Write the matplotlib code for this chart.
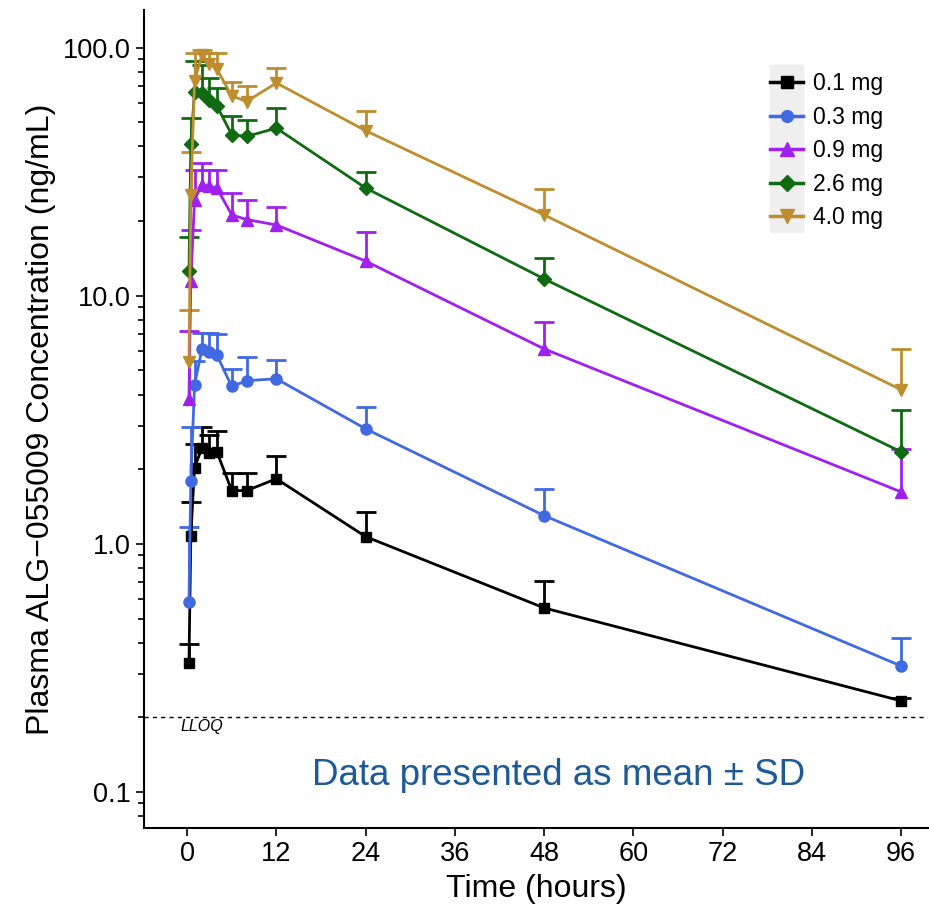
import numpy as np
import matplotlib
matplotlib.use("Agg")
import matplotlib.pyplot as plt
from matplotlib.patches import Rectangle
from matplotlib.lines import Line2D
from matplotlib.ticker import FixedLocator, LogLocator, NullFormatter

plt.rcParams["font.family"] = ["Liberation Sans", "DejaVu Sans"]

# sampling times (hours)
times = [0.25, 0.5, 1, 2, 3, 4, 6, 8, 12, 24, 48, 96]

doses = ["0.1 mg", "0.3 mg", "0.9 mg", "2.6 mg", "4.0 mg"]

mean_01 = [0.332, 1.08, 2.03, 2.44, 2.33, 2.35, 1.64, 1.64, 1.83, 1.07, 0.552, 0.233]
upper_01 = [0.395, 1.47, 2.53, 2.96, 2.75, 2.84, 1.93, 1.93, 2.27, 1.35, 0.71, 0.24]

mean_03 = [0.585, 1.79, 4.38, 6.11, 5.91, 5.77, 4.31, 4.55, 4.63, 2.91, 1.30, 0.322]
upper_03 = [1.17, 2.97, 5.48, 7.11, 7.10, 7.01, 5.06, 5.69, 5.52, 3.57, 1.67, 0.418]

mean_09 = [3.85, 11.5, 24.4, 28.0, 27.6, 27.2, 21.2, 20.3, 19.3, 13.8, 6.11, 1.62]
upper_09 = [7.2, 18.5, 32.2, 34.3, 32.2, 32.2, 25.9, 24.4, 22.9, 18.1, 7.85, 2.42]

mean_26 = [12.6, 40.9, 66.3, 65.6, 61.7, 58.3, 44.6, 43.9, 47.4, 27.2, 11.7, 2.35]
upper_26 = [17.3, 52.0, 88.0, 85.4, 75.5, 68.8, 53.2, 51.3, 57.4, 31.6, 14.2, 3.47]

mean_40 = [5.42, 25.4, 73.1, 93.7, 86.0, 82.0, 64.0, 60.7, 72.1, 46.3, 21.2, 4.18]
upper_40 = [8.73, 38.0, 95.2, 98.0, 95.0, 95.0, 73.0, 69.8, 82.8, 55.7, 27.0, 6.11]

LLOQ = 0.2

means = [mean_01, mean_03, mean_09, mean_26, mean_40]
uppers = [upper_01, upper_03, upper_09, upper_26, upper_40]
colors = ["black", "#4169E1", "#A020F0", "#0f6a12", "#BD8D2E"]
markers = ["s", "o", "^", "D", "v"]
msizes = [7.5, 8, 9, 7.5, 9]

fig = plt.figure(figsize=(9.3, 9.11), dpi=100)
ax = fig.add_axes([0.1548, 0.0911, 0.843, 0.898])

handles = []
for lab, m, u, c, mk, ms in zip(doses, means, uppers, colors, markers, msizes):
    m = np.array(m); u = np.array(u)
    err = [np.zeros_like(m), u - m]
    cont = ax.errorbar(times, m, yerr=err, color=c, marker=mk, ms=ms, lw=2,
                       elinewidth=2, capsize=7, capthick=2)
    cont[1][0].set_visible(False)   # no lower caps, upper SD only
    handles.append(Line2D([], [], color=c, marker=mk, ms=ms + 0.5, lw=2.5, label=lab))

ax.axhline(LLOQ, color="black", ls=(0, (3, 3)), lw=1)
ax.text(2.0, LLOQ * 0.985, "LLOQ", ha="center", va="top", fontsize=11.5, style="italic")
ax.text(50.0, 0.117, "Data presented as mean \u00b1 SD", ha="center", va="center",
        fontsize=26.5, color="#1d5a96")

ax.set_yscale("log")
ax.set_xlim(-5.8, 99.6)
ax.set_ylim(0.0716, 142)
ax.set_xticks(np.arange(0, 97, 12))
ax.yaxis.set_major_locator(FixedLocator([0.1, 1, 10, 100]))
ax.set_yticklabels(["0.1", "1.0", "10.0", "100.0"])
ax.yaxis.set_minor_locator(LogLocator(base=10, subs=np.arange(2, 10)))
ax.yaxis.set_minor_formatter(NullFormatter())
ax.tick_params(axis="both", which="major", labelsize=19.5, length=6, width=1.2, direction="out")
ax.tick_params(axis="y", which="minor", length=4, width=1.2)
for s in ("top", "right"):
    ax.spines[s].set_visible(False)
for s in ("left", "bottom"):
    ax.spines[s].set_linewidth(1.5)

ax.set_xlabel("Time (hours)", fontsize=23, labelpad=5)
ax.set_ylabel("Plasma ALG\u2212055009 Concentration (ng/mL)", fontsize=23, labelpad=5)

# grey key background like the original legend
ax.add_patch(Rectangle((770 / 930, 1 - 232 / 911), 33 / 930, 167 / 911,
                       transform=fig.transFigure, color="#efefef", zorder=0.5,
                       clip_on=False))
leg = ax.legend(handles=handles, loc="upper left", bbox_to_anchor=(770 / 930, 1 - 72 / 911),
                bbox_transform=fig.transFigure, frameon=False, fontsize=16.5, borderpad=0,
                borderaxespad=0, handlelength=1.44, labelspacing=0.46, handletextpad=0.42)
leg.set_zorder(5)

fig.savefig("out.png", dpi=100)
